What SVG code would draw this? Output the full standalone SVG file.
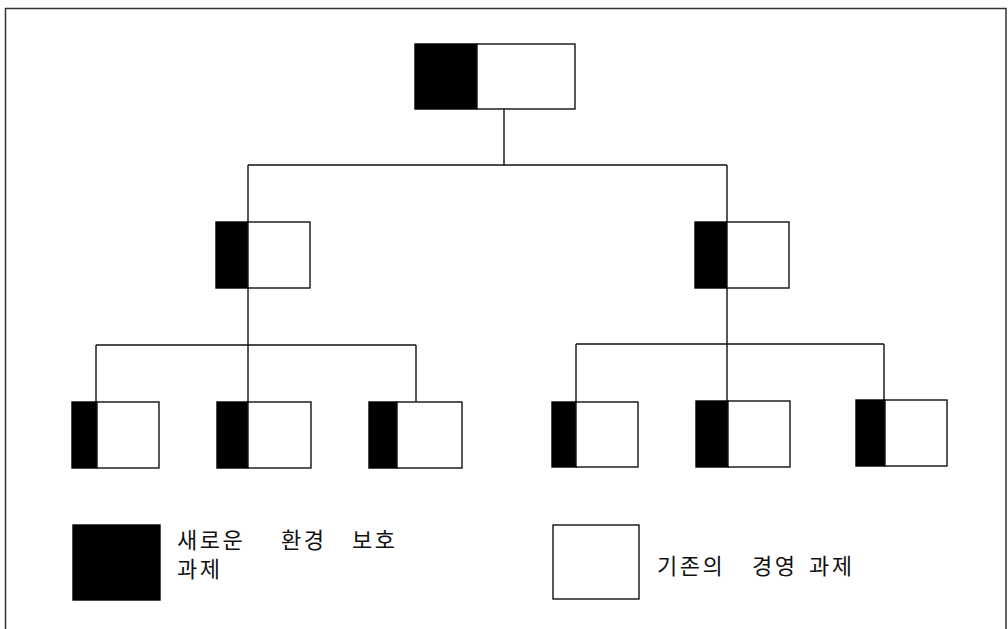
<svg xmlns="http://www.w3.org/2000/svg" width="1008" height="629" viewBox="0 0 1008 629">
  <style>
    .frame { fill: none; stroke: #333; stroke-width: 1.5; }
    .wire { fill: none; stroke: #111; stroke-width: 1.4; }
    .dark { fill: #000; stroke: #000; stroke-width: 1.4; }
    .light { fill: #fff; stroke: #111; stroke-width: 1.4; }
    .label { font-family: "Noto Sans CJK KR", "Noto Sans", sans-serif; font-size: 22px; fill: #111; letter-spacing: 2.5px; }
  </style>
  <rect width="1008" height="629" fill="#fff"/>

  <!-- outer frame (open at the bottom) -->
  <path class="frame" d="M5.5,629 V8.5 H1006 V629"/>

  <!-- connectors -->
  <g id="connectors">
    <path class="wire" d="M504,109 V165 M248,165 H727 M248,165 V222 M727,165 V222"/>
    <path class="wire" d="M248,288 V345 M96,345 H416 M96,345 V402 M416,345 V402 M248,345 V402"/>
    <path class="wire" d="M727,288 V344 M576,344 H884 M576,344 V402 M884,344 V400 M727,344 V401"/>
  </g>

  <!-- root -->
  <g id="root">
    <rect class="dark" x="415" y="44" width="62" height="65"/>
    <rect class="light" x="477" y="44" width="98" height="65"/>
  </g>

  <!-- second level -->
  <g id="mid-left">
    <rect class="dark" x="216" y="222" width="32" height="66"/>
    <rect class="light" x="248" y="222" width="62" height="66"/>
  </g>
  <g id="mid-right">
    <rect class="dark" x="695" y="222" width="32" height="66"/>
    <rect class="light" x="727" y="222" width="62" height="66"/>
  </g>

  <!-- third level -->
  <g id="leaf-1">
    <rect class="dark" x="72" y="402" width="25" height="66"/>
    <rect class="light" x="97" y="402" width="62" height="66"/>
  </g>
  <g id="leaf-2">
    <rect class="dark" x="217" y="402" width="31" height="66"/>
    <rect class="light" x="248" y="402" width="63" height="66"/>
  </g>
  <g id="leaf-3">
    <rect class="dark" x="369" y="402" width="28" height="66"/>
    <rect class="light" x="397" y="402" width="65" height="66"/>
  </g>
  <g id="leaf-4">
    <rect class="dark" x="552" y="402" width="24" height="65"/>
    <rect class="light" x="576" y="402" width="62" height="65"/>
  </g>
  <g id="leaf-5">
    <rect class="dark" x="696" y="401" width="32" height="66"/>
    <rect class="light" x="728" y="401" width="62" height="66"/>
  </g>
  <g id="leaf-6">
    <rect class="dark" x="856" y="400" width="29" height="66"/>
    <rect class="light" x="885" y="400" width="62" height="66"/>
  </g>

  <!-- legend -->
  <g id="legend-new">
    <rect class="dark" x="73" y="525" width="87" height="75"/>
    <text class="label"><tspan x="177" y="548">새로운</tspan><tspan x="281" y="548">환경</tspan><tspan x="352" y="548">보호</tspan><tspan x="177" y="577">과제</tspan></text>
  </g>
  <g id="legend-existing">
    <rect class="light" x="553" y="525" width="86" height="74"/>
    <text class="label" y="574"><tspan x="657">기존의</tspan><tspan x="752">경영</tspan><tspan x="809">과제</tspan></text>
  </g>
</svg>
